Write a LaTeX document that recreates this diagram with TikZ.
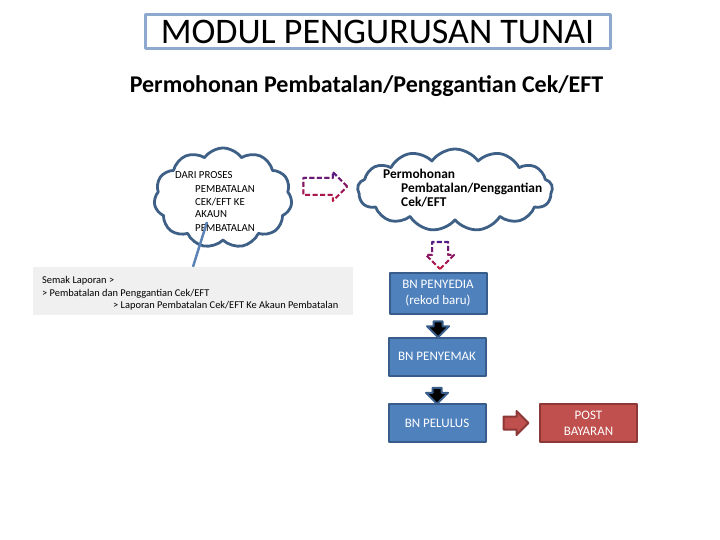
\documentclass[tikz,border=0pt]{standalone}
\usepackage{fontspec}
\setmainfont{Carlito}
\usetikzlibrary{arrows.meta}
\usetikzlibrary{calc}
\usetikzlibrary{positioning}
\usetikzlibrary{shapes.symbols}
\usetikzlibrary{shapes.arrows}
\usetikzlibrary{fadings}
\definecolor{titleblue}{HTML}{8DA9CD}
\definecolor{cloudblue}{HTML}{3E5F86}
\definecolor{boxblue}{HTML}{4F81BD}
\definecolor{boxblueline}{HTML}{385D8A}
\definecolor{boxred}{HTML}{C0504D}
\definecolor{boxredline}{HTML}{8C3836}
\definecolor{panelgray}{HTML}{F0F0F0}
\definecolor{dashpurple}{HTML}{4B1F8C}
\definecolor{dashred}{HTML}{C8143C}
\definecolor{pointerblue}{HTML}{5B83B5}
\tikzfading[name=fadedown, top color=transparent!0, bottom color=transparent!100]

\begin{document}
\begin{tikzpicture}[x=1pt,y=-1pt,line join=round,
    cloudbox/.style={cloud, cloud puffs=11, cloud puff arc=110, draw=cloudblue, line width=2.8pt, inner sep=0pt},
    flowbox/.style={rectangle, fill=boxblue, draw=boxblueline, line width=2pt, text=white, minimum width=97pt, minimum height=38pt, align=center, inner sep=0pt, font=\fontsize{13}{16}\selectfont},
    endbox/.style={flowbox, fill=boxred, draw=boxredline},
    dasharrow/.style={single arrow, draw=dashpurple, dash pattern=on 5pt off 2.5pt, line width=2pt, path fading=fadedown, preaction={draw=dashred}},
    stepdown/.style={single arrow, shape border rotate=270, fill=black, draw=boxblueline, line width=2pt, inner sep=3.5pt, minimum height=16pt, minimum width=20pt, single arrow head extend=6.5pt},
    redarrow/.style={single arrow, fill=boxred, draw=boxredline, line width=2pt, inner sep=5.5pt, minimum height=25pt, minimum width=22pt, single arrow head extend=5.5pt},
    cloudtext/.style={anchor=base west, inner sep=0pt}
  ]
  \useasboundingbox (0,0) rectangle (720,540);
  % judul
  \node[draw=titleblue, line width=3pt, minimum width=465pt, minimum height=34pt, inner sep=0pt, font=\fontsize{36}{40}\selectfont] (judul) at (377.5,32) {MODUL PENGURUSAN TUNAI};
  \node[anchor=base, inner sep=0pt, font=\fontsize{24}{28}\selectfont\bfseries] (subjudul) at (366.5,93) {Permohonan Pembatalan/Penggantian Cek/EFT};
  % awan
  \node[cloudbox, minimum width=138pt, minimum height=100pt] (awankiri) at (223,198) {};
  \node[cloudbox, cloud puffs=13, minimum width=195pt, minimum height=82pt] (awankanan) at (455,190) {};
  \begin{scope}[font=\fontsize{10.8}{13}\selectfont]
    \node[cloudtext] (dari) at (175,179) {DARI PROSES};
    \node[cloudtext] (dari2) at (195,193) {PEMBATALAN};
    \node[cloudtext] (dari3) at (195,206) {CEK/EFT KE};
    \node[cloudtext] (dari4) at (195,218) {AKAUN};
    \node[cloudtext] (dari5) at (195,231) {PEMBATALAN};
  \end{scope}
  \begin{scope}[font=\fontsize{13.4}{16}\selectfont\bfseries]
    \node[cloudtext] (mohon) at (383,179) {Permohonan};
    \node[cloudtext] (mohon2) at (401,193) {Pembatalan/Penggantian};
    \node[cloudtext] (mohon3) at (401,207) {Cek/EFT};
  \end{scope}
  % anak panah putus-putus
  \node[dasharrow, inner sep=7.5pt, minimum height=44pt, minimum width=27pt, single arrow head extend=6pt] (kekanan) at (321,186.5) {};
  \node[dasharrow, shape border rotate=270, inner sep=7pt, minimum height=27pt, minimum width=26pt, single arrow head extend=6pt] (kebawah) at (440,251.5) {};
  % laporan
  \node[fill=panelgray, minimum width=320pt, minimum height=48pt, inner sep=0pt] (semak) at (193,291) {};
  \begin{scope}[font=\fontsize{10.4}{12}\selectfont]
    \node[cloudtext] (semak1) at (42,283) {Semak Laporan >};
    \node[cloudtext] (semak2) at (42,296) {> Pembatalan dan Penggantian Cek/EFT};
    \node[cloudtext] (semak3) at (113,308) {> Laporan Pembatalan Cek/EFT Ke Akaun Pembatalan};
  \end{scope}
  \coordinate (hujung) at (207,222);
  \draw[pointerblue, line width=2.5pt] (hujung) -- (semak.north);
  % aliran
  \node[flowbox, minimum height=41pt] (penyedia) at (438,293.5) {BN PENYEDIA\\(rekod baru)};
  \node[flowbox] (penyemak) at (437,356.5) {BN PENYEMAK};
  \node[flowbox] (pelulus) at (437,423) {BN PELULUS};
  \node[endbox] (bayaran) at (588.5,423) {POST\\BAYARAN};
  \node[stepdown] (turun1) at (438,327) {};
  \node[stepdown] (turun2) at (437,393.5) {};
  \node[redarrow] (kepost) at ($(pelulus.east)!0.5!(bayaran.west)$) {};
\end{tikzpicture}
\end{document}
